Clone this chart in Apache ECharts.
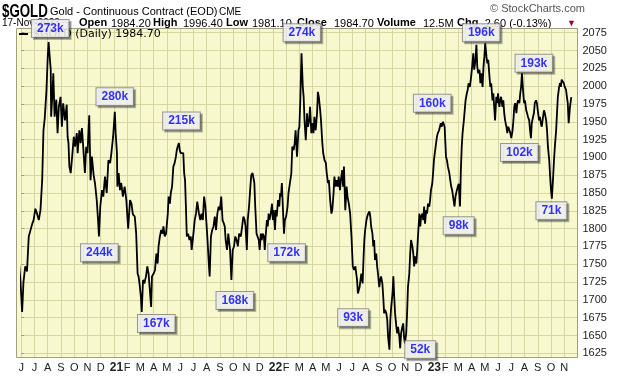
<!DOCTYPE html>
<html lang="en">
<head>
<meta charset="UTF-8">
<title>$GOLD - Daily</title>
<script src="https://cdn.jsdelivr.net/npm/echarts@6/dist/echarts.min.js"></script>
<style>
    html, body { margin: 0; padding: 0; background: #fff; }
    #main { width: 620px; height: 376px; }
</style>
</head>
<body>
<div id="main"></div>
<script>
    // calendar days counted from 1 Jun 2020, and the daily close
    var dayNums = [
        -10, -8, -6, -2, 2, 5, 9, 13, 17, 21, 25, 28, 32, 36, 40, 44, 48, 51, 54, 58,
        61, 63, 65, 68, 69, 72, 74, 77, 81, 84, 87, 91, 94, 97, 101, 105, 107, 109, 111, 114,
        118, 121, 124, 128, 130, 134, 137, 140, 143, 147, 150, 153, 157, 160, 163, 167, 170, 174, 177, 179,
        182, 186, 189, 193, 197, 201, 205, 208, 212, 216, 218, 221, 222, 225, 228, 231, 235, 239, 243, 247,
        251, 254, 257, 261, 264, 267, 269, 271, 274, 276, 279, 282, 286, 289, 292, 295, 298, 300, 304, 307,
        310, 313, 315, 318, 321, 324, 326, 329, 332, 336, 338, 341, 343, 346, 349, 352, 355, 357, 359, 362,
        364, 366, 368, 372, 374, 376, 378, 380, 383, 386, 389, 391, 395, 398, 401, 404, 408, 411, 414, 417,
        420, 423, 425, 428, 431, 433, 436, 439, 442, 445, 448, 451, 454, 457, 460, 463, 466, 468, 470, 473,
        476, 480, 483, 486, 489, 492, 495, 498, 501, 505, 508, 511, 514,
        516, 519, 521, 524, 527, 529, 532, 534, 536, 538, 541, 544, 546, 548, 551, 553, 555, 558, 560, 562,
        565, 567, 569, 571, 574, 577, 579, 581, 584, 586, 588, 591, 594, 596, 598, 600, 603, 605, 607, 610,
        613, 615, 618, 621, 623, 626, 628, 630, 633, 636, 638, 640, 643, 646, 648, 650, 653, 656, 658, 661,
        663, 666, 668, 671, 673, 676, 679, 681, 683, 686, 688, 691, 693, 696, 699, 701, 704, 706, 709, 712,
        714, 717, 719, 722, 724, 727, 729, 732, 734, 737, 739, 741, 744, 747, 749, 752, 755, 758, 761, 764,
        767, 771, 773,
        777, 779, 781, 784, 786, 788, 790, 793, 795, 797, 800, 802, 804, 807, 809, 811, 813, 816, 818, 820,
        823, 825, 827, 830, 832, 834, 836, 839, 841, 843, 846, 848, 850, 853, 855, 857, 859, 862, 864, 866,
        869, 871, 873, 876, 878, 880, 882, 885, 887, 889, 892, 894, 896, 899, 901, 903, 905, 908, 910, 912,
        915, 917, 919, 922, 924, 926, 928, 931, 933, 935, 938, 940, 942, 945, 947, 949, 951, 954, 956, 958,
        961, 963, 965, 967, 970, 972, 974, 977, 979, 981, 984, 986, 988, 990, 993, 995, 997, 1000, 1002, 1004,
        1007, 1009, 1011, 1013, 1016, 1018, 1020, 1023, 1025, 1027, 1030,
        1033, 1036, 1038, 1040, 1043, 1045, 1047, 1049, 1052, 1054, 1056, 1059, 1061, 1063, 1065, 1068, 1070, 1072, 1075, 1077,
        1079, 1082, 1084, 1086, 1088, 1091, 1093, 1095, 1098, 1100, 1102, 1105, 1107, 1109, 1111, 1114, 1116, 1118, 1121, 1123,
        1125, 1128, 1130, 1132, 1134, 1137, 1139, 1141, 1144, 1146, 1148, 1150, 1153, 1155, 1157, 1160, 1162, 1164, 1167, 1169,
        1171, 1173, 1176, 1178, 1180, 1183, 1185, 1187, 1190, 1192, 1194, 1196, 1199, 1201, 1203, 1206, 1208, 1210, 1213, 1215,
        1217, 1219, 1222, 1224, 1226, 1229, 1231, 1233, 1236, 1238, 1240, 1242, 1245, 1247, 1249, 1252, 1254, 1256, 1258, 1261,
        1263, 1264
    ];
    var closes = [
        1732, 1709, 1758, 1727, 1683, 1725, 1747, 1740, 1789, 1791, 1807, 1812, 1828, 1821, 1812, 1826, 1868, 1938, 1955, 1994,
        2041, 2062, 2046, 2023, 1957, 1990, 2018, 1957, 1981, 1934, 1971, 1985, 1943, 1976, 1952, 1974, 1929, 1920, 1887, 1878,
        1906, 1929, 1915, 1934, 1906, 1938, 1920, 1941, 1915, 1878, 1915, 1906, 1959, 1868, 1901, 1875, 1864, 1840, 1812, 1789,
        1831, 1854, 1845, 1873, 1850, 1896, 1892, 1906, 1929, 1964, 1934, 1906, 1859, 1878, 1854, 1864, 1845, 1859, 1840, 1800,
        1840, 1835, 1820, 1817, 1793, 1737, 1733, 1723, 1704, 1683, 1728, 1723, 1733, 1747, 1737, 1737, 1690, 1733, 1737, 1742,
        1765, 1751, 1775, 1789, 1798, 1793, 1803, 1789, 1793, 1821, 1845, 1835, 1850, 1859, 1887, 1892, 1901, 1910, 1915, 1920,
        1910, 1906, 1908, 1906, 1878, 1868, 1831, 1789, 1793, 1784, 1789, 1770, 1793, 1812, 1821, 1838, 1821, 1812, 1821, 1812,
        1845, 1831, 1812, 1784, 1751, 1733, 1789, 1798, 1803, 1817, 1798, 1821, 1831, 1826, 1845, 1812, 1807, 1803, 1784, 1770,
        1793, 1770, 1728, 1770, 1775, 1789, 1784, 1775, 1793, 1789, 1803, 1817, 1812,
        1803, 1770, 1812, 1831, 1859, 1875, 1878, 1880, 1864, 1831, 1793, 1793, 1784, 1770, 1793, 1784, 1793, 1789, 1770, 1789,
        1812, 1803, 1821, 1812, 1821, 1835, 1812, 1826, 1798, 1826, 1817, 1840, 1831, 1850, 1845, 1864, 1821, 1793, 1812, 1817,
        1831, 1850, 1864, 1878, 1915, 1910, 1920, 1938, 1901, 1938, 1943, 1976, 2046, 1999, 1985, 1952, 1924, 1962, 1943, 1952,
        1971, 1934, 1948, 1934, 1957, 1938, 1962, 1992, 1985, 1967, 1952, 1920, 1906, 1896, 1892, 1878, 1864, 1868, 1840, 1821,
        1826, 1850, 1873, 1859, 1868, 1859, 1873, 1854, 1868, 1882, 1859, 1887, 1826, 1859, 1845, 1835, 1821, 1789, 1747, 1742,
        1747, 1728, 1709,
        1718, 1728, 1737, 1723, 1756, 1784, 1798, 1812, 1817, 1821, 1824, 1817, 1803, 1793, 1775, 1784, 1756, 1765, 1747, 1737,
        1718, 1728, 1733, 1723, 1704, 1681, 1686, 1681, 1672, 1648, 1630, 1672, 1690, 1709, 1733, 1704, 1681, 1662, 1653, 1662,
        1648, 1632, 1653, 1662, 1667, 1648, 1639, 1653, 1681, 1718, 1737, 1765, 1784, 1775, 1765, 1747, 1761, 1751, 1770, 1793,
        1821, 1803, 1817, 1821, 1812, 1831, 1807, 1826, 1821, 1835, 1831, 1840, 1854, 1863, 1878, 1896, 1906, 1920, 1929, 1934,
        1938, 1943, 1948, 1943, 1950, 1952, 1943, 1901, 1896, 1887, 1878, 1868, 1859, 1854, 1840, 1831, 1845, 1854, 1859, 1863,
        1831, 1882, 1915, 1934, 1952, 1966, 1980, 1990, 1995, 2004, 1999,
        2013, 2032, 2046, 2023, 2037, 2058, 2027, 2018, 2023, 2004, 2018, 1999, 2027, 2041, 2060, 2041, 2032, 2037, 2013, 1999,
        2004, 1980, 1990, 1971, 1952, 1985, 1976, 1990, 1971, 1980, 1985, 1971, 1980, 1962, 1952, 1943, 1934, 1943, 1938, 1934,
        1927, 1938, 1952, 1971, 1976, 1962, 1976, 1980, 1976, 1990, 1999, 2018, 1990, 1976, 1980, 1966, 1962, 1957, 1952, 1938,
        1927, 1948, 1957, 1962, 1976, 1980, 1976, 1966, 1952, 1957, 1948, 1943, 1957, 1966, 1962, 1952, 1938, 1915, 1896, 1873,
        1854, 1842, 1873, 1896, 1915, 1938, 1962, 1985, 1999, 2004, 1999, 2009, 2011, 2004, 1999, 1995, 1985, 1976, 1948, 1971,
        1980, 1984.7
    ];

    // volume call-outs: text, day (from 1 Jun 2020) and price where the box sits
    var tagTexts  = ['273k', '280k', '244k', '215k', '167k', '168k', '172k', '274k', '93k', '52k', '160k', '98k', '196k', '193k', '102k', '71k'];
    var tagDays   = [67, 216, 180, 368, 310, 491, 611, 644, 762, 917, 945, 1004, 1056, 1178, 1144, 1218];
    var tagPrices = [2081, 1985, 1766, 1951, 1667, 1699, 1766, 2075, 1675, 1630, 1976, 1804, 2075, 2032, 1907, 1825];

    // quote line under the title: left edge, text, bold?
    var quoteX    = [2, 79, 111, 153, 183, 226, 252, 297, 334, 377, 423, 457, 481];
    var quoteText = ['17-Nov-2023', 'Open', '1984.20', 'High', '1996.40', 'Low', '1981.10', 'Close', '1984.70', 'Volume', '12.5M', 'Chg', '-2.60 (-0.13%)'];
    var quoteBold = [false, true, false, true, false, true, false, true, false, true, false, true, false];

    var monthLetters = ['J', 'F', 'M', 'A', 'M', 'J', 'J', 'A', 'S', 'O', 'N', 'D'];
    var priceMin = 1625, priceMax = 2075, priceStep = 25;

    // months since 1 Jun 2020 (fractional), used as the x scale
    function monthPos(d) {
        var t = new Date(Date.UTC(2020, 5, 1) + d * 86400000);
        var y = t.getUTCFullYear(), m = t.getUTCMonth(), day = t.getUTCDate();
        var dim = new Date(Date.UTC(y, m + 1, 0)).getUTCDate();
        return (y - 2020) * 12 + (m - 5) + (day - 1) / dim;
    }

    var lineData = [];
    for (var i = 0; i < dayNums.length; i++) {
        lineData.push([monthPos(dayNums[i]), closes[i]]);
    }
    var tagData = [];
    for (var j = 0; j < tagTexts.length; j++) {
        tagData.push([monthPos(tagDays[j]), tagPrices[j], tagTexts[j]]);
    }

    var gridColor = '#d6d6a0';
    var font = 'Liberation Sans, Arial, sans-serif';

    var graphics = [
        {type: 'rect', z: -10, silent: true, shape: {x: 16, y: 28, width: 561.5, height: 330},
            style: {fill: '#f8f8cf', stroke: null}},
        {type: 'rect', z: 5, silent: true, shape: {x: 16.5, y: 28.5, width: 561, height: 329},
            style: {fill: null, stroke: '#a0a080', lineWidth: 1}},
        {type: 'text', x: 2, y: 2, z: 3, scaleX: 0.7,
            style: {text: '$GOLD', font: 'bold 19px ' + font, fill: '#000'}},
        {type: 'text', left: 50, top: 6, z: 3,
            style: {text: 'Gold - Continuous Contract (EOD)', font: '11px ' + font, fill: '#000'}},
        {type: 'text', left: 219, top: 7, z: 3,
            style: {text: 'CME', font: '10px ' + font, fill: '#000'}},
        {type: 'text', left: 490, top: 3, z: 3,
            style: {text: '\u00a9 StockCharts.com', font: '11px ' + font, fill: '#555'}},
        {type: 'text', left: 567, top: 19, z: 3,
            style: {text: '\u25bc', font: '9px ' + font, fill: '#8b0a2a'}},
        // in-plot legend
        {type: 'rect', z: 4, silent: true, shape: {x: 19, y: 33, width: 9, height: 2},
            style: {fill: '#000'}},
        {type: 'text', left: 33, top: 29, z: 4,
            style: {text: '$GOLD (Daily) 1984.70', font: '11px DejaVu Sans, sans-serif', fill: '#000'}}
    ];
    for (var q = 0; q < quoteText.length; q++) {
        graphics.push({
            type: 'text', left: quoteX[q], top: quoteBold[q] ? 17 : 18, z: 3,
            style: {
                text: quoteText[q],
                font: (quoteBold[q] ? 'bold 11px ' : (q === 0 ? '10px ' : '11px ')) + font,
                fill: '#000'
            }
        });
    }

    var myChart = echarts.init(document.getElementById('main'), null, {renderer: 'canvas'});
    var option = {
        animation: false,
        grid: [
            // full plot frame (line + month lines)
            {left: 21.25, right: 42.5, top: 28, bottom: 18},
            // price scale 1625..2075
            {left: 21.25, right: 42.5, top: 32.7, bottom: 22.7}
        ],
        xAxis: [
            {
                type: 'value', gridIndex: 0, min: 0, max: 42, interval: 1,
                axisLine: {show: false}, axisTick: {show: false},
                splitLine: {show: true, lineStyle: {color: gridColor, width: 1}},
                axisLabel: {
                    margin: 4, fontSize: 11, color: '#222', fontFamily: font,
                    showMaxLabel: false,
                    formatter: function (v) {
                        if (v % 1 !== 0 || v >= 42) return '';
                        var k = 5 + v;
                        var mi = k % 12;
                        if (mi === 0) return '{yr|' + String(2020 + k / 12).slice(2) + '}';
                        return monthLetters[mi];
                    },
                    rich: {yr: {fontWeight: 'bold', fontSize: 12, color: '#222', fontFamily: font, padding: [0, 0, 0, 5]}}
                }
            },
            {type: 'value', gridIndex: 1, min: 0, max: 42, show: false}
        ],
        yAxis: [
            {
                type: 'value', gridIndex: 0, show: false,
                min: priceMin - 4.7 / 0.7124, max: priceMax + 4.7 / 0.7124
            },
            {
                type: 'value', gridIndex: 1, position: 'right',
                min: priceMin, max: priceMax, interval: priceStep,
                axisLine: {show: false},
                axisTick: {show: true, length: 3, lineStyle: {color: '#999'}},
                splitLine: {show: true, lineStyle: {color: gridColor, width: 1}},
                axisLabel: {
                    margin: 5, fontSize: 11, color: '#222', fontFamily: font,
                    formatter: function (v) { return String(v); }
                }
            }
        ],
        series: [
            {
                name: '$GOLD', type: 'line', xAxisIndex: 0, yAxisIndex: 0,
                data: lineData, showSymbol: false, clip: false, z: 2,
                lineStyle: {color: '#000', width: 1.8}
            },
            {
                type: 'scatter', xAxisIndex: 0, yAxisIndex: 0, data: tagData,
                symbolSize: 1, clip: false, z: 20,
                itemStyle: {color: 'rgba(0,0,0,0)'},
                label: {
                    show: true, position: 'inside',
                    formatter: function (p) { return p.value[2]; },
                    color: '#0000ff', fontWeight: 'bold', fontSize: 12, fontFamily: font,
                    backgroundColor: '#fff', borderColor: '#808080', borderWidth: 1,
                    padding: [3, 5, 2, 5],
                    shadowColor: 'rgba(0,0,0,0.35)', shadowOffsetX: 2, shadowOffsetY: 2, shadowBlur: 0
                }
            }
        ],
        graphic: graphics
    };
    myChart.setOption(option);
</script>
</body>
</html>
